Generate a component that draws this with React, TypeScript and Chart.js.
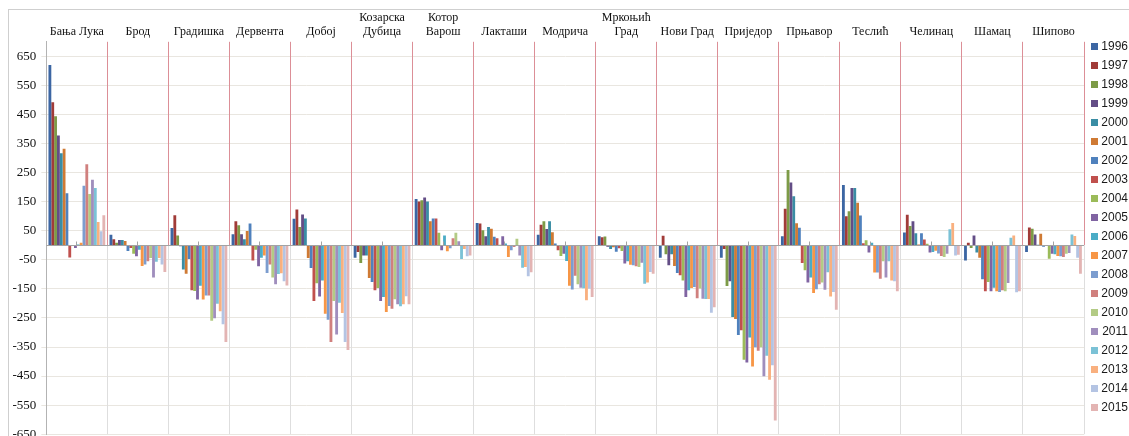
import React, { useEffect, useRef } from 'react';
import { Chart, registerables } from 'chart.js';

Chart.register(...registerables);

const categories: (string | string[])[] = [
  'Бања Лука', 'Брод', 'Градишка', 'Дервента', 'Добој', ['Козарска', 'Дубица'],
  ['Котор', 'Варош'], 'Лакташи', 'Модрича', ['Мркоњић', 'Град'], 'Нови Град',
  'Приједор', 'Прњавор', 'Теслић', 'Челинац', 'Шамац', 'Шипово',
];

const years = ['1996', '1997', '1998', '1999', '2000', '2001', '2002', '2003', '2004', '2005',
  '2006', '2007', '2008', '2009', '2010', '2011', '2012', '2013', '2014', '2015'];

const v1996 = [620, 36, 59, 38, 91, -43, 159, 77, 36, 31, -43, -43, 31, 207, 44, -52, -23];
const v1997 = [492, 21, 103, 83, 123, -23, 151, 75, 71, 28, 33, -13, 126, 100, 105, 9, 61];
const v1998 = [444, 9, 34, 69, 63, -61, 155, 52, 83, 30, -31, -140, 259, 117, 66, -9, 57];
const v1999 = [378, 18, -3, 38, 106, -35, 164, 31, 56, -5, -69, -124, 216, 197, 83, 34, 37];
const v2000 = [317, 18, -83, 21, 92, -35, 151, 63, 83, -13, -31, -247, 169, 197, 41, -25, 2];
const v2001 = [332, 15, -98, 49, -44, -113, 83, 57, 45, -7, -71, -254, 76, 146, 3, -43, 40];
const v2002 = [179, -20, -47, 75, -78, -126, 92, 29, 6, -22, -95, -309, 60, 102, 41, -117, -5];
const v2003 = [-42, -9, -155, -52, -192, -155, 92, 24, -17, -10, -103, -292, -61, 7, 20, -158, 0];
const v2004 = [-2, -29, -157, -15, -131, -147, 43, 2, -37, -20, -121, -394, -86, 17, 5, -126, -46];
const v2005 = [-9, -38, -187, -72, -176, -192, -17, 31, -29, -63, -178, -403, -128, -25, -25, -158, -29];
const v2006 = [3, -15, -139, -43, -121, -178, 34, 6, -54, -55, -155, -317, -111, 9, -23, -146, -31];
const v2007 = [9, -71, -187, -35, -236, -230, -21, -40, -139, -67, -147, -417, -164, -94, -19, -158, -37];
const v2008 = [205, -66, -173, -95, -256, -209, -10, -17, -152, -69, -144, -351, -151, -94, -28, -161, -38];
const v2009 = [279, -55, -173, -66, -333, -218, 24, -6, -105, -72, -182, -363, -134, -115, -37, -155, -40];
const v2010 = [176, -44, -260, -111, -192, -186, 43, 22, -134, -75, -149, -351, -128, -55, -40, -158, -29];
const v2011 = [225, -111, -251, -134, -307, -203, 14, -35, -146, -60, -184, -451, -153, -111, -29, -130, -27];
const v2012 = [197, -57, -201, -99, -198, -210, -47, -77, -148, -132, -185, -380, -93, -55, 55, 26, 37];
const v2013 = [80, -44, -227, -96, -233, -203, -13, -75, -189, -128, -185, -463, -176, -121, 77, 34, 32];
const v2014 = [48, -66, -272, -124, -333, -175, -38, -107, -150, -92, -232, -413, -161, -124, -35, -162, -43];
const v2015 = [103, -92, -333, -138, -360, -203, -35, -93, -178, -98, -213, -603, -222, -158, -33, -158, -98];

const seriesValues = [v1996, v1997, v1998, v1999, v2000, v2001, v2002, v2003, v2004, v2005,
  v2006, v2007, v2008, v2009, v2010, v2011, v2012, v2013, v2014, v2015];

const seriesColors = [
  '#3c66a3', '#a13b38', '#7d9b47', '#634d86', '#3a8da4', '#cf7a34',
  '#4f81bd', '#c0504d', '#9bbb59', '#8064a2', '#4bacc6', '#f79646',
  '#7c9dcf', '#d0807e', '#b3cb85', '#a08ebd', '#7bc2d6', '#f9b07f',
  '#b4c4e3', '#e3b4b3',
];

const yTickValues = [650, 550, 450, 350, 250, 150, 50, -50, -150, -250, -350, -450, -550, -650];
const yMin = -650;
const yMax = 700;

const PINK = '#dc8f97';
const V_GRID_GREY = '#dedede';
const AXIS_GREY = '#a3a3a3';

const crisp = (p: number) => Math.round(p - 0.5) + 0.5;

const decorPlugin = {
  id: 'decor',
  beforeDatasetsDraw(chart: any) {
    const { ctx, chartArea, scales } = chart;
    const x = scales.x;
    const y = scales.y;
    const y0 = y.getPixelForValue(0);
    ctx.save();
    ctx.lineWidth = 1;
    for (let i = 1; i <= categories.length; i++) {
      const px = crisp(x.getPixelForValue(i - 0.5));
      ctx.strokeStyle = PINK;
      ctx.beginPath();
      ctx.moveTo(px, chartArea.top);
      ctx.lineTo(px, y0);
      ctx.stroke();
      ctx.strokeStyle = V_GRID_GREY;
      ctx.beginPath();
      ctx.moveTo(px, y0);
      ctx.lineTo(px, chartArea.bottom);
      ctx.stroke();
    }
    ctx.restore();
  },
  afterDatasetsDraw(chart: any) {
    const { ctx, chartArea, scales } = chart;
    const x = scales.x;
    const y = scales.y;
    const y0 = crisp(y.getPixelForValue(0));
    ctx.save();
    ctx.strokeStyle = AXIS_GREY;
    ctx.lineWidth = 1;
    ctx.beginPath();
    ctx.moveTo(chartArea.left, y0);
    ctx.lineTo(chartArea.right, y0);
    for (let i = 0; i < categories.length; i++) {
      const px = crisp(x.getPixelForValue(i));
      ctx.moveTo(px, y0);
      ctx.lineTo(px, y0 - 4);
    }
    ctx.stroke();
    ctx.restore();
  },
};

export default function App() {
  const canvasRef = useRef<HTMLCanvasElement | null>(null);

  useEffect(() => {
    document.documentElement.style.overflow = 'hidden';
    document.body.style.overflow = 'hidden';
    document.body.style.margin = '0';
    if (!canvasRef.current) return;
    const chart = new Chart(canvasRef.current, {
      type: 'bar',
      data: {
        labels: categories as any,
        datasets: years.map((yr, i) => ({
          label: yr,
          data: seriesValues[i],
          backgroundColor: seriesColors[i],
          borderWidth: 0,
          categoryPercentage: 0.93,
          barPercentage: 1.0,
        })),
      },
      options: {
        animation: false,
        responsive: true,
        maintainAspectRatio: false,
        layout: { padding: { left: 3.5, right: 6, top: 0, bottom: 0 } },
        plugins: {
          tooltip: { enabled: false },
          legend: {
            position: 'right',
            maxWidth: 44,
            labels: {
              boxWidth: 7,
              boxHeight: 7,
              padding: 7,
              textAlign: 'right',
              color: '#1a1a1a',
              font: { family: '"Liberation Sans", Arial, sans-serif', size: 12 },
            },
          },
        },
        scales: {
          x: {
            type: 'category',
            position: 'top',
            offset: true,
            grid: { display: false, drawTicks: false, offset: true },
            border: { display: false },
            ticks: {
              autoSkip: false,
              maxRotation: 0,
              minRotation: 0,
              padding: 3.4,
              color: '#111',
              font: { family: '"Liberation Serif", "DejaVu Serif", serif', size: 12, lineHeight: '14px' },
            },
          },
          y: {
            type: 'linear',
            min: yMin,
            max: yMax,
            afterBuildTicks: (axis: any) => {
              axis.ticks = yTickValues.map((v) => ({ value: v }));
            },
            grid: { color: '#e9e6e0', drawTicks: true, tickLength: 5 },
            border: { display: true, color: '#b3b3b3' },
            ticks: {
              padding: 5,
              color: '#111',
              font: { family: '"Liberation Serif", "DejaVu Serif", serif', size: 13 },
              callback: (v: any) => String(v),
            },
          },
        },
      },
      plugins: [decorPlugin],
    });
    return () => chart.destroy();
  }, []);

  return (
    <div
      style={{
        width: 1129,
        height: 436,
        boxSizing: 'border-box',
        padding: '8px 0 0 8px',
        overflow: 'hidden',
        background: '#fff',
      }}
    >
      <div
        style={{
          marginTop: 1,
          borderTop: '1px solid #cfcfcf',
          borderLeft: '1px solid #cfcfcf',
          width: 1140,
          height: 440,
        }}
      >
        <div style={{ position: 'relative', left: -5, top: -3, width: 1130, height: 440 }}>
          <canvas ref={canvasRef} />
        </div>
      </div>
    </div>
  );
}
